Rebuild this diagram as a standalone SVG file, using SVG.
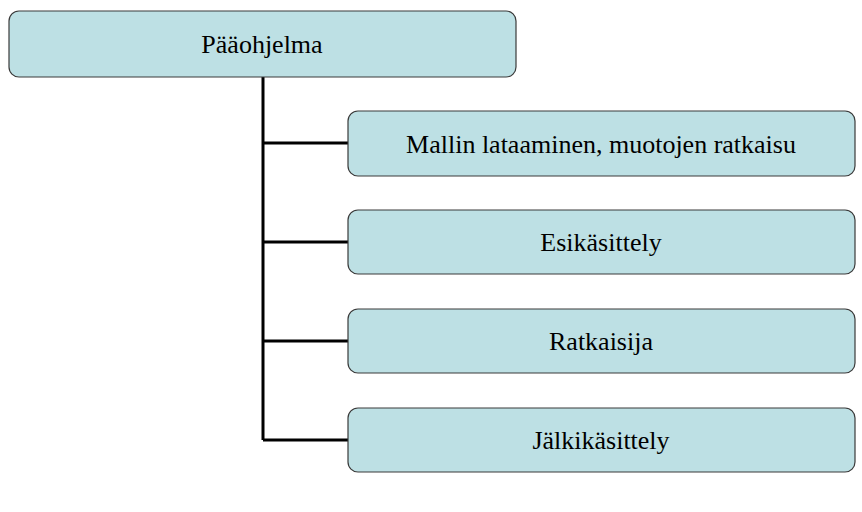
<svg xmlns="http://www.w3.org/2000/svg" width="862" height="512" viewBox="0 0 862 512">
<style>
.b{fill:#bde0e4;stroke:#3a3a3a;stroke-width:1.2}
.t{font-family:"Liberation Serif",serif;font-size:26px;fill:#000;text-anchor:middle}
.c{stroke:#000;stroke-width:3;fill:none}
</style>
<rect width="862" height="512" fill="#fff"/>
<g id="connectors">
<path class="c" d="M263 77V440M263 143H348M263 242H348M263 341H348M263 440H348"/>
</g>
<g id="main"><rect class="b" x="9" y="11" width="507" height="66" rx="10"/><text class="t" x="262" y="53">Pääohjelma</text></g>
<g id="n1"><rect class="b" x="348" y="111" width="507" height="65" rx="10"/><text class="t" x="601" y="153">Mallin lataaminen, muotojen ratkaisu</text></g>
<g id="n2"><rect class="b" x="348" y="210" width="507" height="64" rx="10"/><text class="t" x="601" y="251">Esikäsittely</text></g>
<g id="n3"><rect class="b" x="348" y="309" width="507" height="64" rx="10"/><text class="t" x="601" y="350">Ratkaisija</text></g>
<g id="n4"><rect class="b" x="348" y="408" width="507" height="64" rx="10"/><text class="t" x="601" y="449">Jälkikäsittely</text></g>
</svg>
